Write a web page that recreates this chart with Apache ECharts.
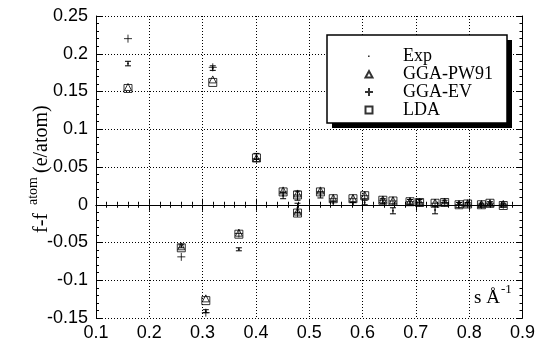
<!DOCTYPE html>
<html><head><meta charset="utf-8">
<script src="https://cdn.jsdelivr.net/npm/echarts@6/dist/echarts.min.js"></script>
<style>html,body{margin:0;padding:0;background:#fff}#c{width:538px;height:351px}</style>
</head><body><div id="c"></div>
<script>
// scattering vector s (1/Angstrom)
const sValues    = [0.160, 0.260, 0.306, 0.319, 0.368, 0.401, 0.451, 0.478, 0.478, 0.521, 0.545, 0.582, 0.604, 0.638, 0.657, 0.689, 0.707, 0.736, 0.754, 0.781, 0.797, 0.823, 0.839, 0.864];
const expValues  = [0.187, -0.055, -0.141, 0.181, -0.059, 0.064, 0.012, 0.012, -0.004, 0.013, 0.002, 0.001, 0.003, 0.005, -0.008, 0.004, 0.004, -0.007, 0.004, 0.001, 0.001, 0.000, 0.002, 0.000];
const expErrors  = [0.003, 0.002, 0.002, 0.003, 0.002, 0.004, 0.004, 0.006, 0.006, 0.004, 0.003, 0.002, 0.003, 0.003, 0.004, 0.003, 0.003, 0.005, 0.002, 0.002, 0.002, 0.002, 0.002, 0.002];
const pw91Values = [0.156, -0.055, -0.124, 0.166, -0.037, 0.062, 0.019, 0.015, -0.009, 0.019, 0.009, 0.009, 0.013, 0.007, 0.006, 0.005, 0.004, 0.003, 0.004, 0.001, 0.002, 0.001, 0.002, 0.001];
const evValues   = [0.220, -0.069, -0.143, 0.182, -0.038, 0.061, 0.017, 0.013, -0.011, 0.017, 0.008, 0.008, 0.012, 0.006, 0.005, 0.004, 0.003, 0.002, 0.003, 0.000, 0.001, 0.000, 0.002, 0.000];
const ldaValues  = [0.154, -0.057, -0.127, 0.162, -0.039, 0.062, 0.017, 0.013, -0.011, 0.017, 0.008, 0.008, 0.012, 0.006, 0.005, 0.004, 0.003, 0.002, 0.003, 0.000, 0.001, 0.000, 0.002, -0.001];
const seriesNames = ['Exp', 'GGA-PW91', 'GGA-EV', 'LDA'];

const pairs = arr => sValues.map((s, i) => [s, arr[i]]);
const plusPath = 'path://M0,5H10M5,0V10';
const serif = 'Liberation Serif';
const sans = 'Liberation Sans';
const hollow = { color: 'rgba(0,0,0,0)', borderColor: '#000', borderWidth: 1 };

// legend icons drawn 1:1 inside a 58x9 box
const box = 'path://M0,0M58,9';
const legendIcons = [
  box + 'M28,4h1.6v1.6h-1.6z',
  box + 'M25.5,8L29,1.5L32.5,8Z',
  box + 'M25,4.5H33M29,0.5V8.5',
  box + 'M25.5,1H32.5V8H25.5Z'
];

const chart = echarts.init(document.getElementById('c'), null, { renderer: 'canvas' });

const axisCommon = {
  type: 'value',
  axisLine: { show: true, lineStyle: { color: '#000', width: 1 } },
  axisTick: { show: true, inside: true, length: 6, lineStyle: { color: '#000' } },
  minorTick: { show: true, splitNumber: 5, length: 3, lineStyle: { color: '#000' } },
};
const gridLine = { show: true, lineStyle: { color: '#000', type: [1, 2], width: 1 } };

const titleText = (text, x, y, size) => ({
  type: 'text', z: 5, x: x, y: y, rotation: Math.PI / 2,
  style: { text: text, fontFamily: serif, fontSize: size, fill: '#000', align: 'left', verticalAlign: 'middle' }
});

chart.setOption({
  animation: false,
  backgroundColor: '#fff',
  grid: { left: 96, right: 14, top: 16, bottom: 33, containLabel: false },
  xAxis: [
    Object.assign({}, axisCommon, {
      min: 0.1, max: 0.9, interval: 0.1, position: 'bottom', splitLine: gridLine,
      axisLabel: { color: '#000', fontSize: 18, fontFamily: sans, margin: 6 }
    }),
    Object.assign({}, axisCommon, {
      min: 0.1, max: 0.9, interval: 0.1, position: 'top',
      splitLine: { show: false }, axisLabel: { show: false }
    })
  ],
  yAxis: [
    Object.assign({}, axisCommon, {
      min: -0.15, max: 0.25, interval: 0.05, position: 'left', splitLine: gridLine,
      axisLabel: { color: '#000', fontSize: 18, fontFamily: sans, margin: 8 }
    }),
    Object.assign({}, axisCommon, {
      min: -0.15, max: 0.25, interval: 0.05, position: 'right',
      splitLine: { show: false }, axisLabel: { show: false }
    })
  ],
  legend: {
    orient: 'vertical', left: 334, top: 42,
    itemWidth: 58, itemHeight: 9, itemGap: 0,
    textStyle: { fontFamily: serif, fontSize: 18, color: '#000', lineHeight: 18 },
    data: seriesNames.map((n, i) => ({ name: n, icon: legendIcons[i] }))
  },
  graphic: [
    { type: 'rect', z: 3, shape: { x: 332, y: 40, width: 180, height: 88 }, style: { fill: '#000' } },
    { type: 'rect', z: 3, shape: { x: 327, y: 35, width: 180, height: 88 }, style: { fill: '#fff', stroke: '#000', lineWidth: 1.5 } },
    titleText('f-f', 42, 233, 20),
    titleText('atom', 33, 205, 14),
    titleText('(e/atom)', 42, 173, 20),
    {
      type: 'text', z: 5, x: 474, y: 298,
      style: { text: 's Å', fontFamily: serif, fontSize: 19, fill: '#000', align: 'left', verticalAlign: 'middle' }
    },
    {
      type: 'text', z: 5, x: 501, y: 290,
      style: { text: '-1', fontFamily: serif, fontSize: 13, fill: '#000', align: 'left', verticalAlign: 'middle' }
    }
  ],
  series: [
    {
      name: 'Exp error', type: 'custom', z: 3,
      data: sValues.map((s, i) => [s, expValues[i], expErrors[i]]),
      encode: { x: 0, y: 1 },
      renderItem: (params, api) => {
        const x = api.value(0), y = api.value(1), e = api.value(2);
        const t = api.coord([x, y + e]), b = api.coord([x, y - e]);
        const w = 3, st = { stroke: '#000', lineWidth: 1 };
        return { type: 'group', children: [
          { type: 'line', shape: { x1: t[0], y1: t[1], x2: b[0], y2: b[1] }, style: st },
          { type: 'line', shape: { x1: t[0] - w, y1: t[1], x2: t[0] + w, y2: t[1] }, style: st },
          { type: 'line', shape: { x1: b[0] - w, y1: b[1], x2: b[0] + w, y2: b[1] }, style: st }
        ] };
      }
    },
    { name: seriesNames[0], type: 'scatter', z: 3, symbol: 'circle', symbolSize: 2, itemStyle: { color: '#000' }, data: pairs(expValues) },
    { name: seriesNames[1], type: 'scatter', z: 3, symbol: 'triangle', symbolSize: 7, itemStyle: hollow, data: pairs(pw91Values) },
    { name: seriesNames[2], type: 'scatter', z: 3, symbol: plusPath, symbolSize: 8, itemStyle: hollow, data: pairs(evValues) },
    { name: seriesNames[3], type: 'scatter', z: 3, symbol: 'rect', symbolSize: 8, itemStyle: hollow, data: pairs(ldaValues) }
  ]
});
</script>
</body></html>
